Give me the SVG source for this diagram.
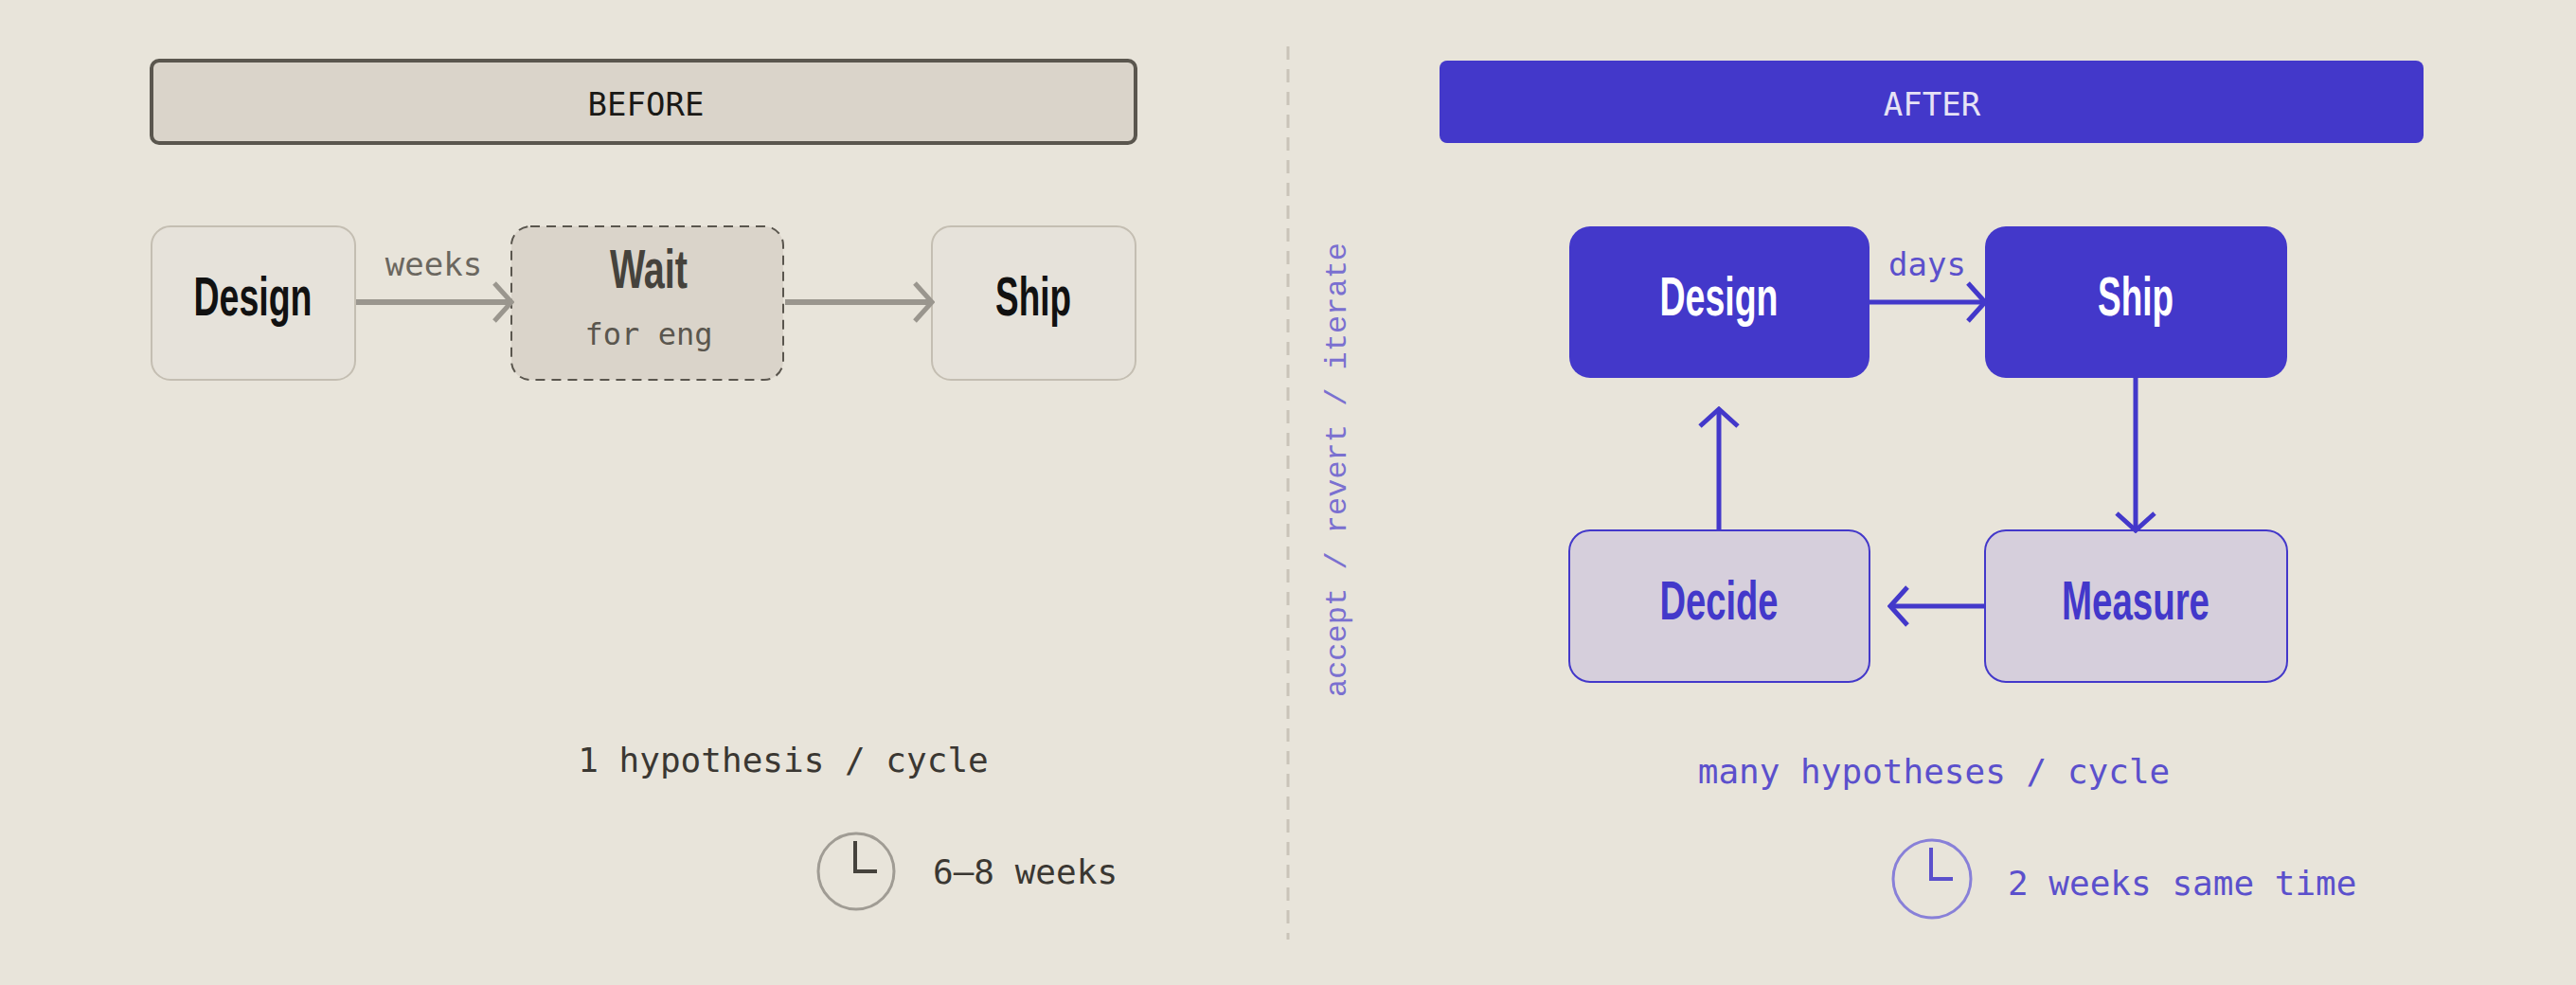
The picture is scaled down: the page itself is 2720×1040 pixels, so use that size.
<svg xmlns="http://www.w3.org/2000/svg" width="2720" height="1040" viewBox="0 0 2720 1040">
<defs>
<style>
.mono{font-family:"DejaVu Sans Mono","Liberation Mono",monospace}
.cond{font-family:"Liberation Sans",Arial,sans-serif;font-weight:bold}
.lc{fill:none;stroke:#9a968e;stroke-width:6}
.rc{fill:none;stroke:#4338ca;stroke-width:5}
</style>
<marker id="ag" viewBox="0 0 24 44" refX="21" refY="22" markerWidth="24" markerHeight="44" markerUnits="userSpaceOnUse" orient="auto"><path d="M3,2 L21,22 L3,42" fill="none" stroke="#9a968e" stroke-width="5"/></marker>
<marker id="ab" viewBox="0 0 24 44" refX="21" refY="22" markerWidth="24" markerHeight="44" markerUnits="userSpaceOnUse" orient="auto"><path d="M3,2 L21,22 L3,42" fill="none" stroke="#4338ca" stroke-width="5"/></marker>
</defs>
<rect width="2720" height="1040" fill="#e8e4da"/>
<line x1="1360" y1="49" x2="1360" y2="992" stroke="#c9c3b8" stroke-width="3" stroke-dasharray="14 10"/>

<g id="before-header"><rect x="160" y="64" width="1039" height="87" rx="8" fill="#dad4ca" stroke="#5a564e" stroke-width="4"/>
<text x="682" y="122" class="mono" font-size="34" text-anchor="middle" fill="#1a1916">BEFORE</text></g>
<g id="b-design"><rect x="160" y="239" width="215" height="162" rx="20" fill="#e6e2da" stroke="#c4beb2" stroke-width="2"/>
<text x="267" y="333" class="cond" font-size="58" text-anchor="middle" textLength="125" lengthAdjust="spacingAndGlyphs" fill="#111">Design</text></g>
<g id="b-wait"><rect x="540" y="239" width="287" height="162" rx="20" fill="#dad4ca" stroke="#5a564e" stroke-width="2" stroke-dasharray="10 7"/>
<text x="685" y="304" class="cond" font-size="58" text-anchor="middle" textLength="82" lengthAdjust="spacingAndGlyphs" fill="#45423c">Wait</text>
<text x="685" y="364" class="mono" font-size="32" text-anchor="middle" fill="#5a564e">for eng</text></g>
<g id="b-ship"><rect x="984" y="239" width="215" height="162" rx="20" fill="#e6e2da" stroke="#c4beb2" stroke-width="2"/>
<text x="1091" y="333" class="cond" font-size="58" text-anchor="middle" textLength="80" lengthAdjust="spacingAndGlyphs" fill="#111">Ship</text></g>

<g id="after-header"><rect x="1520" y="64" width="1039" height="87" rx="8" fill="#4338ca"/>
<text x="2040" y="122" class="mono" font-size="34" text-anchor="middle" fill="#e6e2f5">AFTER</text></g>
<g id="a-design"><rect x="1657" y="239" width="317" height="160" rx="22" fill="#4338ca"/>
<text x="1815" y="333" class="cond" font-size="58" text-anchor="middle" textLength="125" lengthAdjust="spacingAndGlyphs" fill="#fff">Design</text></g>
<g id="a-ship"><rect x="2096" y="239" width="319" height="160" rx="22" fill="#4338ca"/>
<text x="2255" y="333" class="cond" font-size="58" text-anchor="middle" textLength="80" lengthAdjust="spacingAndGlyphs" fill="#fff">Ship</text></g>
<g id="a-decide"><rect x="1657" y="560" width="317" height="160" rx="22" fill="#d6cfdc" stroke="#4338ca" stroke-width="2"/>
<text x="1815" y="654" class="cond" font-size="58" text-anchor="middle" textLength="125" lengthAdjust="spacingAndGlyphs" fill="#4338ca">Decide</text></g>
<g id="a-measure"><rect x="2096" y="560" width="319" height="160" rx="22" fill="#d6cfdc" stroke="#4338ca" stroke-width="2"/>
<text x="2255" y="654" class="cond" font-size="58" text-anchor="middle" textLength="156" lengthAdjust="spacingAndGlyphs" fill="#4338ca">Measure</text></g>

<g id="connectors">
<line x1="376" y1="319" x2="540" y2="319" class="lc" marker-end="url(#ag)"/>
<line x1="829" y1="319" x2="984" y2="319" class="lc" marker-end="url(#ag)"/>
<line x1="1974" y1="319" x2="2096" y2="319" class="rc" marker-end="url(#ab)"/>
<line x1="2255" y1="399" x2="2255" y2="560" class="rc" marker-end="url(#ab)"/>
<line x1="2096" y1="640" x2="1996" y2="640" class="rc" marker-end="url(#ab)"/>
<line x1="1815" y1="560" x2="1815" y2="432" class="rc" marker-end="url(#ab)"/>
</g>

<g id="labels">
<text x="458" y="291" class="mono" font-size="34" text-anchor="middle" fill="#6b675f">weeks</text>
<text x="2035" y="291" class="mono" font-size="34" text-anchor="middle" fill="#5b50cc">days</text>
<text x="827" y="815" class="mono" font-size="36" text-anchor="middle" fill="#3a3732">1 hypothesis / cycle</text>
<text x="985" y="933" class="mono" font-size="36" fill="#3a3732">6–8 weeks</text>
<text x="2042" y="827" class="mono" font-size="36" text-anchor="middle" fill="#5b50cc">many hypotheses / cycle</text>
<text x="2120" y="945" class="mono" font-size="36" fill="#5b50cc">2 weeks same time</text>
<text x="0" y="0" transform="translate(1421,496) rotate(-90)" font-family="Liberation Mono,monospace" font-size="32" text-anchor="middle" fill="#7a70d0">accept / revert / iterate</text>
</g>

<g id="clock-before"><circle cx="904" cy="920" r="40" fill="none" stroke="#a09c94" stroke-width="3"/>
<path d="M903,888 V920 H926" fill="none" stroke="#45423c" stroke-width="4"/></g>
<g id="clock-after"><circle cx="2040" cy="928" r="41" fill="none" stroke="#8880d8" stroke-width="3"/>
<path d="M2039,895 V928 H2062" fill="none" stroke="#5b50cc" stroke-width="4"/></g>
</svg>
